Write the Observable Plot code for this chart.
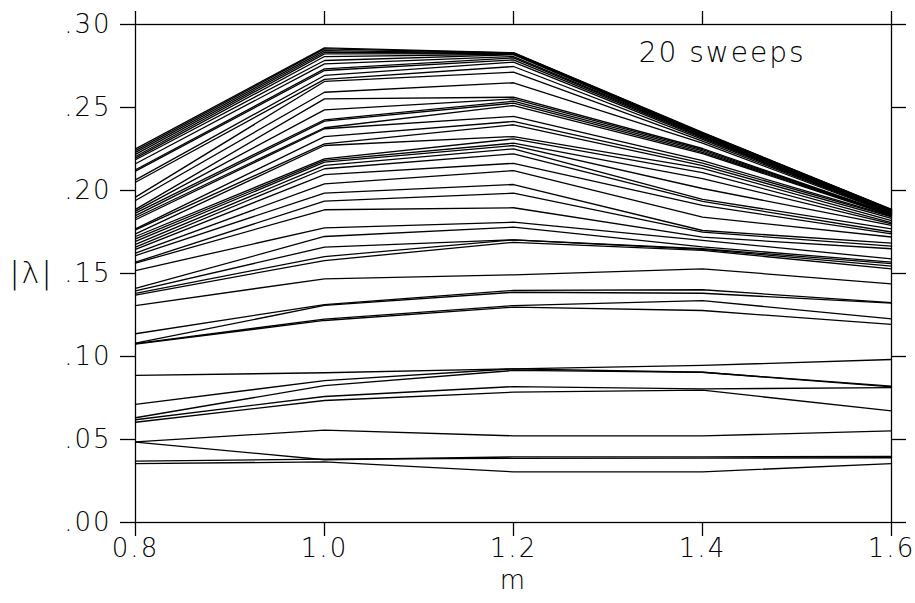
<!DOCTYPE html>
<html>
<head>
<meta charset="utf-8">
<script src="https://cdn.jsdelivr.net/npm/d3@7"></script>
<script src="https://cdn.jsdelivr.net/npm/@observablehq/plot@0.6"></script>
<style>
  html, body { margin: 0; padding: 0; background: #fff; }
  #chart svg { display: block; }
</style>
</head>
<body>
<div id="chart"></div>
<script>
// Mass values where |lambda| was evaluated
const mValues = [0.8, 1.0, 1.2, 1.4, 1.6];

// Eigenvalue magnitudes per sweep, one row per curve (values at each m)
const upperCurves = [
  [0.2251, 0.2859, 0.2830, 0.2350, 0.1886],
  [0.2240, 0.2853, 0.2829, 0.2348, 0.1885],
  [0.2230, 0.2843, 0.2828, 0.2346, 0.1883],
  [0.2218, 0.2833, 0.2826, 0.2344, 0.1881],
  [0.2205, 0.2823, 0.2824, 0.2341, 0.1879],
  [0.2195, 0.2807, 0.2821, 0.2338, 0.1877],
  [0.2185, 0.2783, 0.2818, 0.2334, 0.1875],
  [0.2161, 0.2763, 0.2807, 0.2330, 0.1873],
  [0.2125, 0.2733, 0.2799, 0.2326, 0.1871],
  [0.2117, 0.2723, 0.2787, 0.2321, 0.1869],
  [0.2064, 0.2693, 0.2773, 0.2316, 0.1867],
  [0.2050, 0.2669, 0.2747, 0.2308, 0.1865],
  [0.1960, 0.2657, 0.2713, 0.2298, 0.1862],
  [0.1940, 0.2592, 0.2649, 0.2285, 0.1860],
  [0.1886, 0.2552, 0.2562, 0.2253, 0.1857],
  [0.1876, 0.2486, 0.2552, 0.2246, 0.1855],
  [0.1864, 0.2426, 0.2538, 0.2238, 0.1853],
  [0.1849, 0.2418, 0.2526, 0.2230, 0.1851],
  [0.1836, 0.2378, 0.2512, 0.2222, 0.1849],
  [0.1824, 0.2372, 0.2446, 0.2180, 0.1846],
  [0.1769, 0.2325, 0.2416, 0.2165, 0.1841],
  [0.1763, 0.2281, 0.2396, 0.2150, 0.1832],
  [0.1739, 0.2271, 0.2325, 0.2133, 0.1819],
  [0.1723, 0.2191, 0.2311, 0.2108, 0.1807],
  [0.1709, 0.2181, 0.2285, 0.2072, 0.1799],
  [0.1693, 0.2171, 0.2271, 0.2012, 0.1790],
  [0.1675, 0.2151, 0.2251, 0.1946, 0.1769],
  [0.1659, 0.2131, 0.2221, 0.1934, 0.1750],
  [0.1645, 0.2096, 0.2164, 0.1910, 0.1739],
  [0.1623, 0.2040, 0.2120, 0.1839, 0.1720],
  [0.1608, 0.1984, 0.2036, 0.1759, 0.1683],
  [0.1568, 0.1936, 0.1984, 0.1749, 0.1665],
  [0.1562, 0.1884, 0.1896, 0.1719, 0.1649],
  [0.1518, 0.1775, 0.1809, 0.1700, 0.1588],
  [0.1410, 0.1723, 0.1779, 0.1660, 0.1568],
  [0.1395, 0.1659, 0.1703, 0.1649, 0.1560],
  [0.1380, 0.1602, 0.1703, 0.1645, 0.1545],
  [0.1370, 0.1578, 0.1688, 0.1639, 0.1528]
];

const middleCurves = [
  [0.1307, 0.1468, 0.1492, 0.1528, 0.1438],
  [0.1137, 0.1313, 0.1398, 0.1402, 0.1325],
  [0.1080, 0.1308, 0.1387, 0.1381, 0.1321],
  [0.1078, 0.1225, 0.1307, 0.1337, 0.1227],
  [0.1075, 0.1217, 0.1297, 0.1277, 0.1193]
];

const lowerCurves = [
  [0.0886, 0.0902, 0.0926, 0.0946, 0.0982],
  [0.0711, 0.0855, 0.0926, 0.0905, 0.0821],
  [0.0631, 0.0825, 0.0916, 0.0905, 0.0817],
  [0.0619, 0.0759, 0.0819, 0.0805, 0.0812],
  [0.0604, 0.0735, 0.0785, 0.0797, 0.0672],
  [0.0486, 0.0556, 0.0522, 0.0522, 0.0552],
  [0.0484, 0.0378, 0.0395, 0.0395, 0.0398],
  [0.0370, 0.0382, 0.0386, 0.0388, 0.0390],
  [0.0355, 0.0365, 0.0305, 0.0305, 0.0355]
];

// Axis ticks and their labels
const xTicks = [0.8, 1.0, 1.2, 1.4, 1.6];
const xTickLabels = ["0.8", "1.0", "1.2", "1.4", "1.6"];
const yTicks = [0, 0.05, 0.10, 0.15, 0.20, 0.25, 0.30];
const yTickLabels = [".00", ".05", ".10", ".15", ".20", ".25", ".30"];

const xLabel = "m";
const yLabel = "|\u03bb|";
const annotation = "20 sweeps";

// Long-format table: one row per (curve, m) point
const rows = [];
[...upperCurves, ...middleCurves, ...lowerCurves].forEach((curve, k) => {
  curve.forEach((v, i) => rows.push({curve: k, m: mValues[i], lambda: v}));
});

const font = "'DejaVu Sans', sans-serif";
const textStyle = {fontSize: 26, fontFamily: font, fontWeight: 200, fill: "#000"};

const chart = Plot.plot({
  width: 915,
  height: 603,
  marginLeft: 135,
  marginRight: 24,
  marginTop: 24,
  marginBottom: 81,
  style: {fontFamily: font, fontSize: "26px", letterSpacing: "2px", color: "#000", background: "#fff"},
  x: {domain: [0.8, 1.6]},
  y: {domain: [0, 0.30]},
  marks: [
    Plot.line(rows, {x: "m", y: "lambda", z: "curve", stroke: "#000", strokeWidth: 1.3}),
    Plot.frame({stroke: "#000", strokeWidth: 1.3}),
    Plot.axisY({anchor: "left", ticks: yTicks, tickSize: 15, tickPadding: 9, strokeWidth: 1.3,
      tickFormat: (d, i) => yTickLabels[i], label: null, ...textStyle}),
    Plot.axisY({anchor: "right", ticks: yTicks, tickSize: 14, strokeWidth: 1.3,
      tickFormat: () => "", label: null}),
    Plot.axisX({anchor: "bottom", ticks: xTicks, tickSize: 14, tickPadding: 2, strokeWidth: 1.3,
      tickFormat: (d, i) => xTickLabels[i], label: null, ...textStyle}),
    Plot.axisX({anchor: "top", ticks: xTicks, tickSize: 14, strokeWidth: 1.3,
      tickFormat: () => "", label: null}),
    Plot.text([xLabel], {frameAnchor: "bottom", lineAnchor: "middle", dy: 58, ...textStyle}),
    Plot.text([yLabel], {frameAnchor: "left", lineAnchor: "middle", textAnchor: "middle",
      dx: -104, ...textStyle, fontSize: 30}),
    Plot.text([annotation], {frameAnchor: "top-right", textAnchor: "end", lineAnchor: "top",
      dx: -86, dy: 18, ...textStyle, fontSize: 28})
  ]
});

document.getElementById("chart").appendChild(chart);
</script>
</body>
</html>
